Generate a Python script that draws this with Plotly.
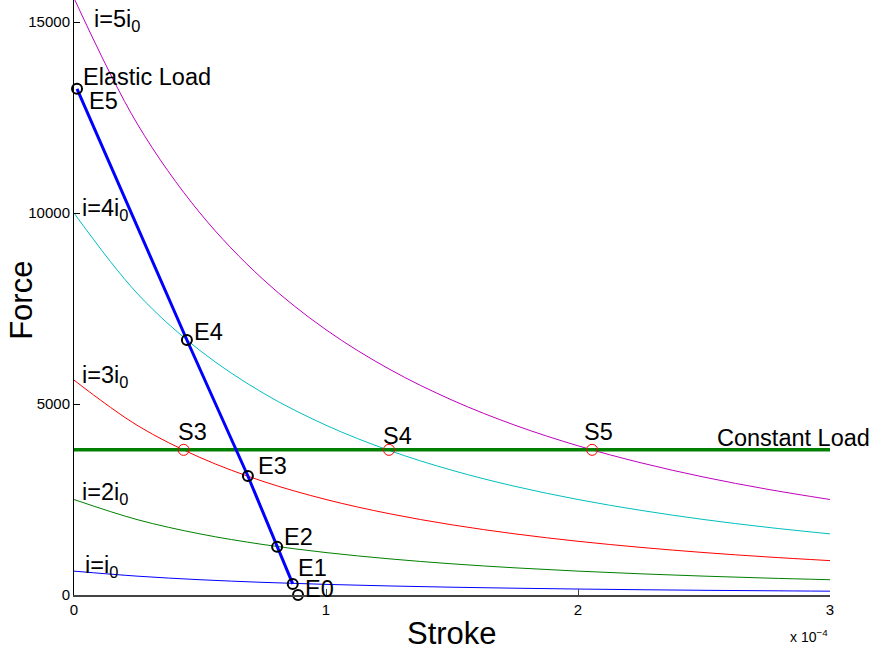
import plotly.graph_objects as go

# Stroke in units of 1e-4
stroke = [0, 0.25, 0.5, 0.75, 1.0, 1.25, 1.5, 1.75, 2.0, 2.25, 2.5, 2.75, 3.0]
force_i1 = [625, 494, 400, 331, 278, 237, 204, 178, 156, 138, 123, 111, 100]
force_i2 = [2500, 1975, 1600, 1322, 1111, 947, 816, 711, 625, 554, 494, 443, 400]
force_i3 = [5625, 4444, 3600, 2975, 2500, 2130, 1837, 1600, 1406, 1246, 1111, 997, 900]
force_i4 = [10000, 7901, 6400, 5289, 4444, 3787, 3265, 2844, 2500, 2215, 1975, 1773, 1600]
force_i5 = [15625, 12346, 10000, 8264, 6944, 5917, 5102, 4444, 3906, 3460, 3086, 2770, 2500]

const_load_x = [0, 3]
const_load_y = [3800, 3800]

elastic_x = [0.012, 0.448, 0.69, 0.806, 0.868]
elastic_y = [13250, 6675, 3115, 1260, 290]

e_names = ["E5", "E4", "E3", "E2", "E1", "E0"]
e_x = [0.012, 0.448, 0.69, 0.806, 0.868, 0.889]
e_y = [13250, 6675, 3115, 1260, 290, 0]

s_names = ["S3", "S4", "S5"]
s_x = [0.435, 1.25, 2.056]
s_y = [3800, 3800, 3800]

y_ticks = [0, 5000, 10000, 15000]
y_ticktext = ["0", "5000", "10000", "15000"]
x_ticks = [0, 1, 2, 3]
x_ticktext = ["0", "1", "2", "3"]

fig = go.Figure()
curves = [(force_i1, "rgb(0,0,255)"), (force_i2, "rgb(0,128,0)"), (force_i3, "rgb(255,0,0)"),
          (force_i4, "rgb(0,191,191)"), (force_i5, "rgb(191,0,191)")]
for ys, c in curves:
    fig.add_trace(go.Scatter(x=stroke, y=ys, mode="lines", line=dict(color=c, width=1, shape="spline"),
                             showlegend=False, hoverinfo="skip"))

fig.add_trace(go.Scatter(x=const_load_x, y=const_load_y, mode="lines",
                         line=dict(color="rgb(0,128,0)", width=3.5), showlegend=False))
fig.add_trace(go.Scatter(x=elastic_x, y=elastic_y, mode="lines",
                         line=dict(color="rgb(0,0,255)", width=3), showlegend=False))
fig.add_trace(go.Scatter(x=s_x, y=s_y, mode="markers", cliponaxis=False,
                         marker=dict(symbol="circle-open", size=11, color="red", line=dict(width=1, color="red")),
                         showlegend=False))
fig.add_trace(go.Scatter(x=e_x, y=e_y, mode="markers", cliponaxis=False,
                         marker=dict(symbol="circle-open", size=10, color="black", line=dict(width=2, color="black")),
                         showlegend=False))

FONT = "Liberation Sans, Arial, sans-serif"
LBL = 23.5
labels = [
    ("i=5i<sub>0</sub>", 0.071, 15050, "left"),
    ("Elastic Load", 0.028, 13560, "left"),
    ("E5", 0.052, 12930, "left"),
    ("i=4i<sub>0</sub>", 0.024, 10080, "left"),
    ("E4", 0.468, 6885, "left"),
    ("i=3i<sub>0</sub>", 0.024, 5710, "left"),
    ("S3", 0.472, 4267, "center"),
    ("S4", 1.282, 4163, "center"),
    ("S5", 2.083, 4267, "center"),
    ("E3", 0.722, 3377, "left"),
    ("i=2i<sub>0</sub>", 0.024, 2650, "left"),
    ("E2", 0.825, 1518, "left"),
    ("E1", 0.881, 707, "left"),
    ("E0", 0.909, 157, "left"),
    ("i=i<sub>0</sub>", 0.036, 740, "left"),
]
for t, x, y, xa in labels:
    fig.add_annotation(x=x, y=y, xref="x", yref="y", text=t, showarrow=False, xanchor=xa, yanchor="middle",
                       font=dict(size=LBL, color="black", family=FONT))

fig.add_annotation(x=(872 - 74) / 756, y=4110, xref="paper", yref="y", text="Constant Load", showarrow=False,
                   xanchor="right", yanchor="middle", font=dict(size=LBL, color="black", family=FONT))

fig.add_annotation(x=-0.0688, y=0.496, xref="paper", yref="paper", text="Force", textangle=-90, showarrow=False,
                   xanchor="center", yanchor="middle", font=dict(size=31, color="black", family=FONT))
fig.add_annotation(x=0.5, y=-0.0639, xref="paper", yref="paper", text="Stroke", showarrow=False,
                   xanchor="center", yanchor="middle", font=dict(size=31, color="black", family=FONT))
fig.add_annotation(x=1.0, y=-0.069, xref="paper", yref="paper", text="x 10<sup>−4</sup>", showarrow=False,
                   xanchor="right", yanchor="middle", font=dict(size=14, color="black", family=FONT))

fig.update_layout(
    width=875, height=656, autosize=False,
    margin=dict(l=74, r=45, t=0, b=61),
    paper_bgcolor="white", plot_bgcolor="white",
    font=dict(family=FONT, color="black"),
    showlegend=False,
)
fig.update_xaxes(range=[0, 3], tickvals=x_ticks, ticktext=x_ticktext, showgrid=False, zeroline=False,
                 showline=True, linecolor="#444", linewidth=1.5, ticks="inside", ticklen=6, tickcolor="#444",
                 tickfont=dict(size=15, family=FONT, color="black"))
fig.update_yaxes(range=[0, 15576], tickvals=y_ticks, ticktext=y_ticktext, showgrid=False, zeroline=False,
                 showline=True, linecolor="black", linewidth=1, ticks="inside", ticklen=6, tickcolor="black",
                 tickfont=dict(size=15, family=FONT, color="black"))

fig.write_html("out.html")
